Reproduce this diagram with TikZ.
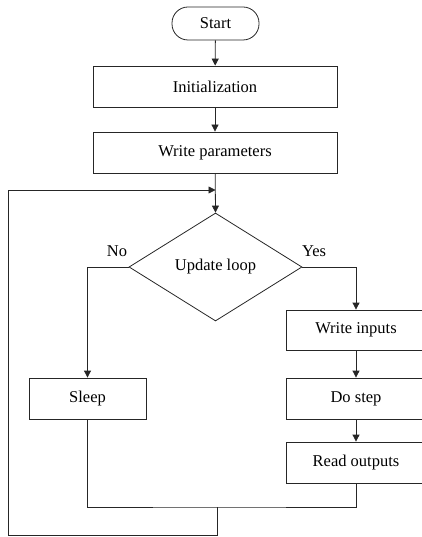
\documentclass[tikz,border=0pt]{standalone}
\usepackage{fontspec}
\setmainfont{Liberation Serif}
\usetikzlibrary{shapes.geometric,arrows.meta}
\begin{document}
\begin{tikzpicture}[x=1pt,y=-1pt,
  every node/.style={font=\fontsize{16.5}{20}\selectfont, text=black},
  box/.style={draw=black!85, line width=0.8pt, rectangle, minimum height=41pt, inner sep=0pt},
  term/.style={draw=black!85, line width=0.8pt, rectangle, rounded corners=16pt, minimum width=87pt, minimum height=33pt, inner sep=0pt},
  dec/.style={draw=black!85, line width=0.8pt, diamond, minimum width=173pt, minimum height=108pt, inner sep=0pt, aspect=1.6},
  conn/.style={draw=black!85, line width=0.8pt},
  arr/.style={conn, -{Triangle[length=7pt,width=7pt]}},
  lbl/.style={inner sep=0pt}
]
\useasboundingbox (0,0) rectangle (422,537);
\clip (0,0) rectangle (422,537);
\node[term] (start) at (215.5,23.5) {Start};
\node[box, minimum width=244pt] (init) at (215,86.5) {Initialization};
\node[box, minimum width=244pt] (wp) at (215,152.5) {Write parameters};
\node[dec] (upd) at (215.5,267) {Update loop};
\node[box, minimum width=117pt] (sleep) at (87.5,398.5) {Sleep};
\node[box, minimum width=140pt, minimum height=40pt] (wi) at (356,330) {Write inputs};
\node[box, minimum width=140pt] (ds) at (356,398.5) {Do step};
\node[box, minimum width=140pt] (ro) at (356,462.5) {Read outputs};
\node[lbl] (no) at (117,251) {No};
\node[lbl] (yes) at (314,251) {Yes};
\coordinate (loopin) at (215.5,190);
\coordinate (j1) at (217,507);
\coordinate (bot) at (217,535);
\coordinate (lft) at (8.5,190);
\draw[arr] (start) -- (init);
\draw[arr] (init) -- (wp);
\draw[arr] (wp) -- (upd.north);
\draw[arr] (upd.west) -| (sleep.north);
\draw[arr] (upd.east) -| (wi.north);
\draw[arr] (wi) -- (ds);
\draw[arr] (ds) -- (ro);
\draw[conn] (sleep.south) |- (j1) -| (ro.south);
\draw[arr] (j1) -- (bot) -| (lft) -- (loopin);
\end{tikzpicture}
\end{document}
